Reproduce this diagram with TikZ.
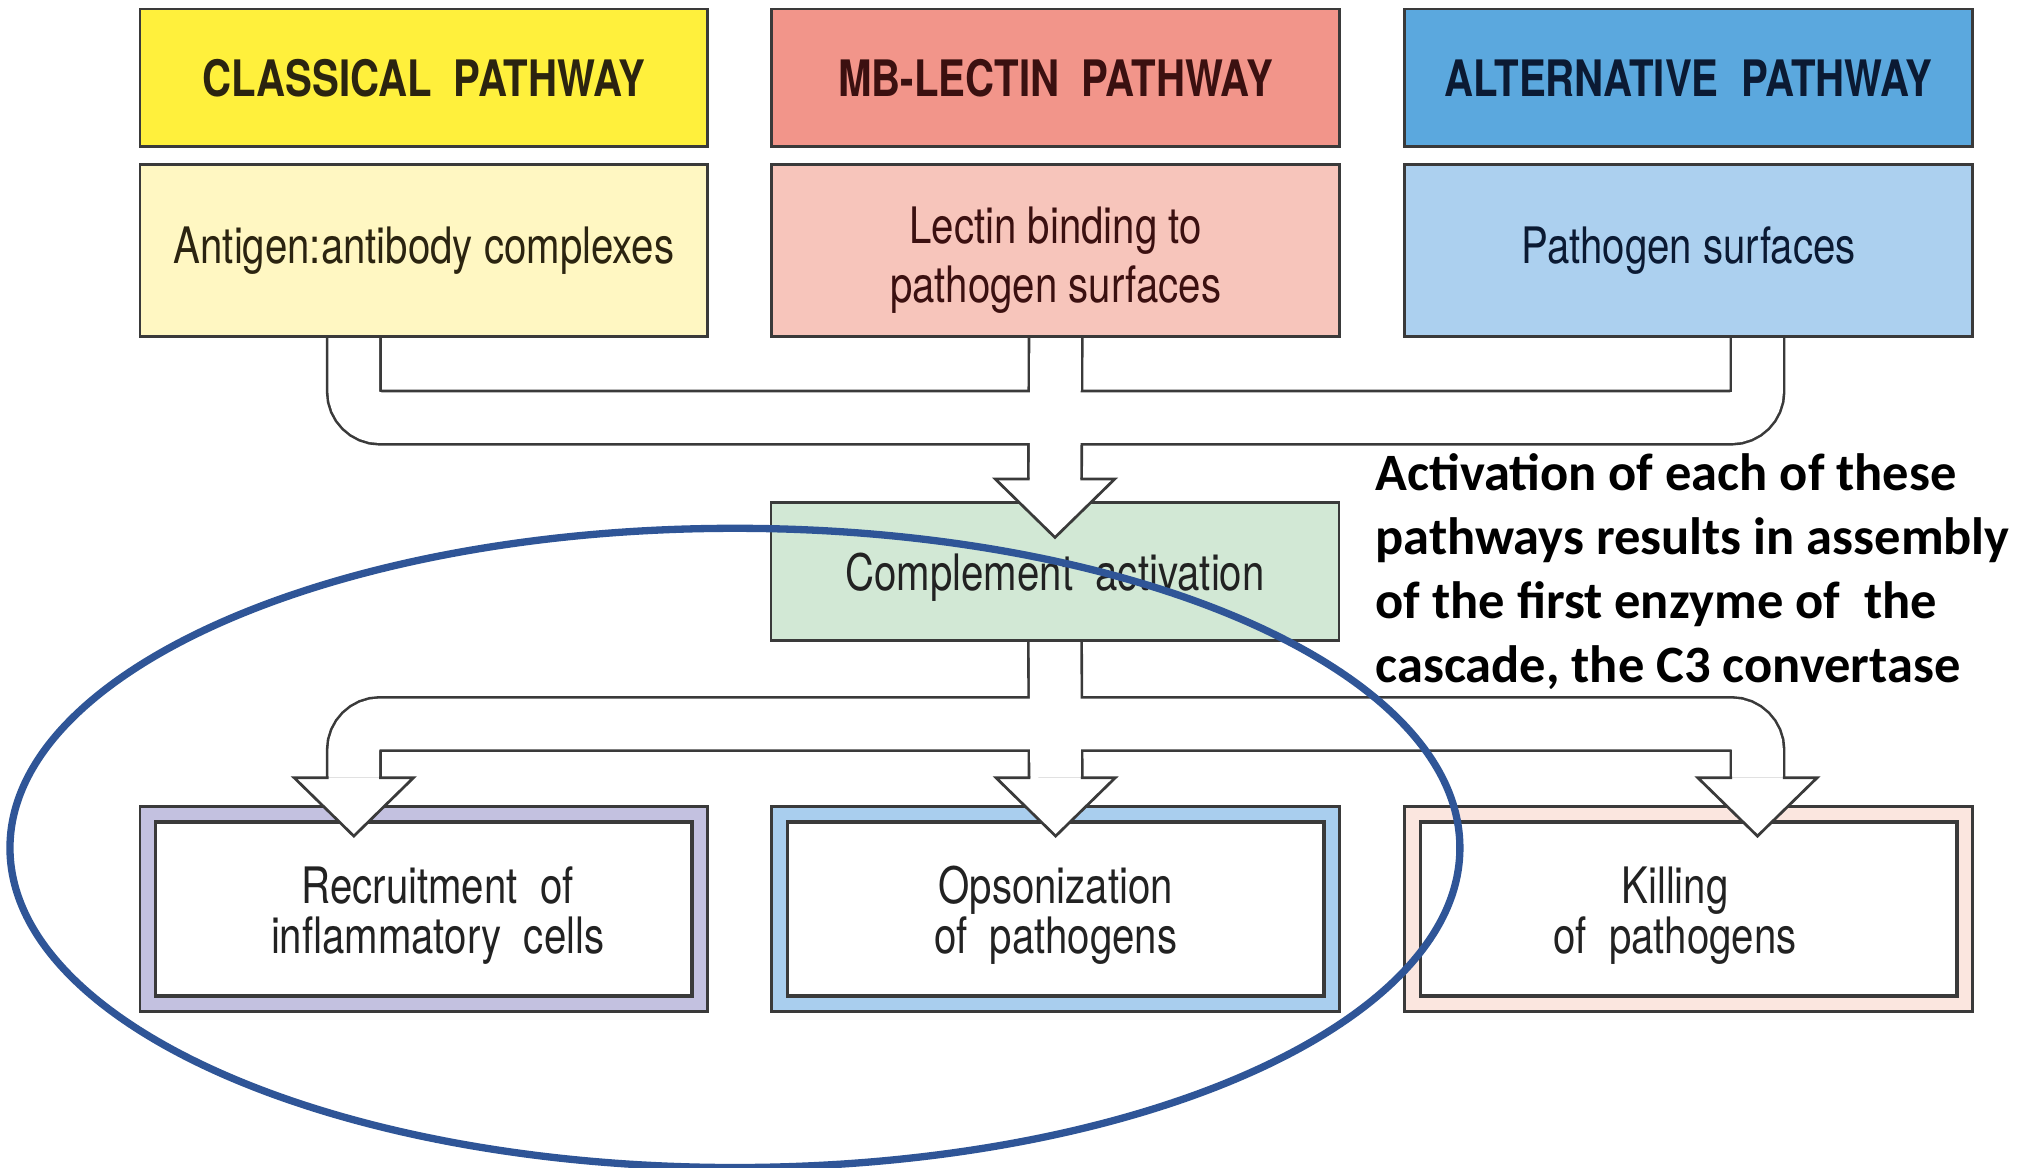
\documentclass[tikz,border=0pt]{standalone}
\usepackage{fontspec}
\usepackage{xcolor}
\usetikzlibrary{calc,backgrounds}
\newfontfamily\boxfont[FakeStretch=0.8]{TeX Gyre Heros}
\newfontfamily\notefont{Carlito}

\begin{document}
\begin{tikzpicture}[x=0.01cm,y=-0.01cm,
  hdbox/.style={draw=boxline,line width=0.6pt,minimum width=4.37cm,minimum height=1.06cm,font=\boxfont\bfseries\fontsize{11}{13}\selectfont},
  subbox/.style={draw=boxline,line width=0.6pt,minimum width=4.37cm,minimum height=1.32cm,align=center,font=\boxfont\fontsize{11}{12.8}\selectfont},
  frbox/.style={draw=boxline,line width=0.6pt,minimum width=4.37cm,minimum height=1.58cm},
  inbox/.style={draw=boxline,line width=0.8pt,fill=white,minimum width=4.13cm,minimum height=1.34cm,align=center,text=boxtxt,font=\boxfont\fontsize{11}{10.8}\selectfont},
  hollowhead/.pic={\filldraw[fill=white,draw=boxline,line width=0.6pt] (-19.5,0) -- (-46,0) -- (0,45) -- (46,0) -- (19.5,0);}]
\definecolor{boxline}{HTML}{3A3A3A}
\definecolor{boxtxt}{HTML}{222222}
\definecolor{clshd}{HTML}{FFF03C}
\definecolor{clssub}{HTML}{FFF7C2}
\definecolor{clstxt}{HTML}{2B2410}
\definecolor{lechd}{HTML}{F2958A}
\definecolor{lecsub}{HTML}{F7C5BB}
\definecolor{lectxt}{HTML}{3B1010}
\definecolor{althd}{HTML}{5BA8DE}
\definecolor{altsub}{HTML}{ACD0EF}
\definecolor{alttxt}{HTML}{0B1A33}
\definecolor{compfill}{HTML}{D2E8D5}
\definecolor{recfr}{HTML}{C3C1E0}
\definecolor{opsfr}{HTML}{A9CEEE}
\definecolor{kilfr}{HTML}{FBE6DF}
\definecolor{ringblue}{HTML}{2F5597}
\useasboundingbox (0,0) rectangle (1568,899);
% pathways
\foreach \nm/\hd/\hcl/\scl/\tcl/\txt/\px in {cls/{CLASSICAL~~PATHWAY}/clshd/clssub/clstxt/{Antigen:antibody complexes}/326.5,
    lec/{MB-LECTIN~~PATHWAY}/lechd/lecsub/lectxt/{\rule{0pt}{12.2pt}Lectin binding to\\pathogen surfaces}/813,
    alt/{ALTERNATIVE~~PATHWAY}/althd/altsub/alttxt/{Pathogen surfaces}/1300.5}
  {\node[hdbox,fill=\hcl,text=\tcl] (\nm-h) at (\px,60) {\hd};
   \node[subbox,fill=\scl,text=\tcl] (\nm-s) at (\px,193) {\txt};}
\node[hdbox,font=\boxfont\fontsize{11}{13}\selectfont,fill=compfill,text=boxtxt] (comp) at (812.5,440) {\rule{0pt}{11pt}Complement~~activation};
% effects
\foreach \nm/\fcl/\txt/\px in {rec/recfr/{\rule{0pt}{11pt}\hspace{6pt}Recruitment~~of\\\hspace{6pt}inflammatory~~cells}/326.5,
    ops/opsfr/{\rule{0pt}{11pt}Opsonization\\of~~pathogens}/813,
    kil/kilfr/{\rule{0pt}{11pt}Killing\kern6pt\\of~~pathogens\kern6pt}/1300.5}
  {\node[frbox,fill=\fcl] (\nm-f) at (\px,700) {};
   \node[inbox] (\nm) at (\px,700) {\txt};}
% hollow connectors
\coordinate (jtop) at ($(lec-s.south)+(0,61.5)$);
\coordinate (jbot) at ($(comp.south)+(0,63.5)$);
\coordinate (atop) at ($(comp.north)+(0,-17)$);
\coordinate (arec) at ($(rec-f.north)+(-54,-21)$);
\coordinate (aops) at ($(ops-f.north)+(0,-21)$);
\coordinate (akil) at ($(kil-f.north)+(53,-21)$);
\begin{scope}[on background layer]
  \fill[white] (0,0) rectangle (1568,899);
  \foreach \lw/\cl in {0.43cm/boxline,0.39cm/white}
  {\draw[line width=\lw,draw=\cl,rounded corners=0.2cm] ($(cls-s.south)+(-54,0)$) |- (jtop);
   \draw[line width=\lw,draw=\cl,rounded corners=0.2cm] ($(alt-s.south)+(53,0)$) |- (jtop);
   \draw[line width=\lw,draw=\cl] (lec-s.south) -- (atop);
   \draw[line width=\lw,draw=\cl] (comp.south) -- (aops);
   \draw[line width=\lw,draw=\cl,rounded corners=0.2cm] (jbot) -| (arec);
   \draw[line width=\lw,draw=\cl,rounded corners=0.2cm] (jbot) -| (akil);}
\end{scope}
\pic at (atop) {hollowhead};
\pic at (arec) {hollowhead};
\pic at (aops) {hollowhead};
\pic at (akil) {hollowhead};
\node[anchor=north west,align=left,font=\notefont\bfseries\fontsize{11.5}{14}\selectfont] (note) at (1047,337)
  {Activation of each of these\\pathways results in assembly\\of the first enzyme of~ the\\cascade, the C3 convertase};
\draw[ringblue,line width=1.6pt] (566,653) ellipse [x radius=5.58cm,y radius=2.46cm];
\end{tikzpicture}
\end{document}
